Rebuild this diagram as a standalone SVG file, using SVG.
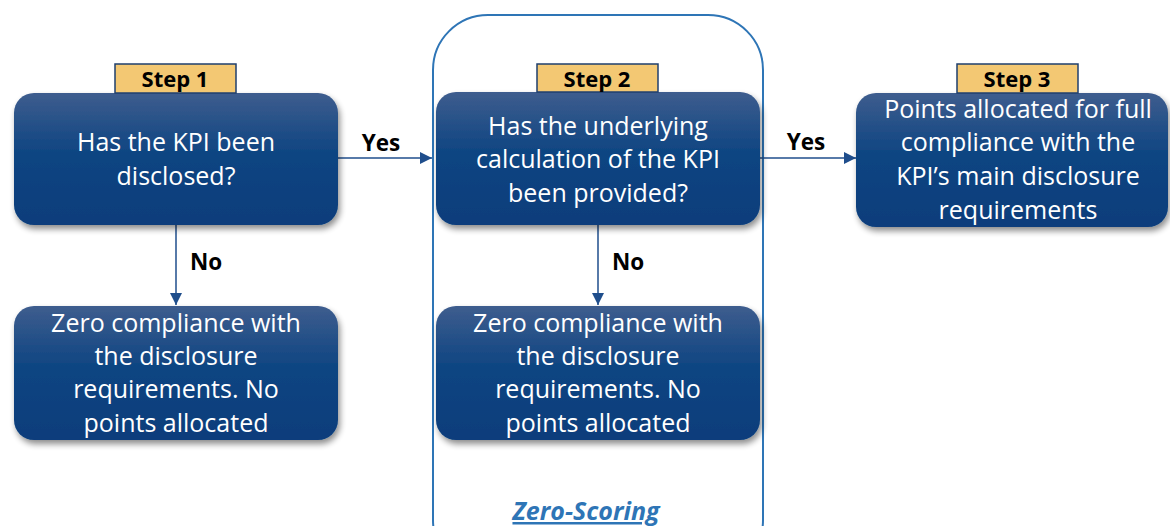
<svg xmlns="http://www.w3.org/2000/svg" width="1170" height="526" viewBox="0 0 1170 526">
<defs>
<linearGradient id="g" x1="0" y1="0" x2="0" y2="1">
<stop offset="0" stop-color="#3e5d8e"/>
<stop offset="0.45" stop-color="#0f4582"/>
<stop offset="1" stop-color="#083d7b"/>
</linearGradient>
<filter id="sh" x="-10%" y="-10%" width="125%" height="130%">
<feGaussianBlur in="SourceAlpha" stdDeviation="3"/>
<feOffset dx="2" dy="4"/>
<feComponentTransfer><feFuncA type="linear" slope="0.45"/></feComponentTransfer>
<feMerge><feMergeNode/><feMergeNode in="SourceGraphic"/></feMerge>
</filter>
<marker id="ah" viewBox="0 0 10 10" refX="10" refY="5" markerWidth="12" markerHeight="12" markerUnits="userSpaceOnUse" orient="auto">
<path d="M0,0 L10,5 L0,10 z" fill="#1f4e8c"/>
</marker>
</defs>
<style>
.box{fill:url(#g);filter:url(#sh)}
.t{font-family:"Open Sans","Noto Sans",sans-serif;font-size:25px;fill:#ffffff;text-anchor:middle}
.step{fill:#f3c873;stroke:#1f3f6e;stroke-width:1.5}
.st{font-family:"Open Sans","Noto Sans",sans-serif;font-size:22px;font-weight:bold;fill:#000;text-anchor:middle}
.lbl{font-family:"Open Sans","Noto Sans",sans-serif;font-size:22.5px;font-weight:bold;fill:#000;text-anchor:middle}
.c{stroke:#1f4e8c;stroke-width:1.5;fill:none}
</style>
<rect width="1170" height="526" fill="#ffffff"/>
<g id="zero-scoring">
<rect x="433" y="15" width="330" height="560" rx="55" ry="55" fill="none" stroke="#2e75b6" stroke-width="2"/>
<text x="586" y="520" font-family="'Open Sans','Noto Sans',sans-serif" font-size="25px" font-weight="bold" font-style="italic" fill="#2e75b6" text-anchor="middle" text-decoration="underline">Zero-Scoring</text>
</g>
<g id="connectors">
<line class="c" x1="338" y1="158" x2="432" y2="158" marker-end="url(#ah)"/>
<line class="c" x1="760" y1="158" x2="856" y2="158" marker-end="url(#ah)"/>
<line class="c" x1="176" y1="225" x2="176" y2="305" marker-end="url(#ah)"/>
<line class="c" x1="598" y1="225" x2="598" y2="305" marker-end="url(#ah)"/>
<text class="lbl" x="381" y="151">Yes</text>
<text class="lbl" x="806" y="150">Yes</text>
<text class="lbl" x="206" y="270">No</text>
<text class="lbl" x="628" y="270">No</text>
</g>
<g id="step1">
<rect class="box" x="14" y="93" width="324" height="132" rx="20"/>
<text class="t" x="176" y="151">Has the KPI been</text>
<text class="t" x="176" y="185">disclosed?</text>
<rect class="step" x="115" y="64" width="121" height="29"/>
<text class="st" x="175" y="87">Step 1</text>
</g>
<g id="step2">
<rect class="box" x="436" y="92" width="324" height="133" rx="20"/>
<text class="t" x="598" y="135">Has the underlying</text>
<text class="t" x="598" y="168">calculation of the KPI</text>
<text class="t" x="598" y="202">been provided?</text>
<rect class="step" x="537" y="64" width="121" height="28"/>
<text class="st" x="597" y="87">Step 2</text>
</g>
<g id="step3">
<rect class="box" x="856" y="93" width="312" height="134" rx="20"/>
<text class="t" x="1018" y="118">Points allocated for full</text>
<text class="t" x="1018" y="151">compliance with the</text>
<text class="t" x="1018" y="185">KPI’s main disclosure</text>
<text class="t" x="1018" y="219">requirements</text>
<rect class="step" x="957" y="64" width="121" height="29"/>
<text class="st" x="1017" y="87">Step 3</text>
</g>
<g id="zero1">
<rect class="box" x="14" y="306" width="324" height="134" rx="20"/>
<text class="t" x="176" y="332">Zero compliance with</text>
<text class="t" x="176" y="365">the disclosure</text>
<text class="t" x="176" y="398">requirements. No</text>
<text class="t" x="176" y="432">points allocated</text>
</g>
<g id="zero2">
<rect class="box" x="436" y="306" width="324" height="134" rx="20"/>
<text class="t" x="598" y="332">Zero compliance with</text>
<text class="t" x="598" y="365">the disclosure</text>
<text class="t" x="598" y="398">requirements. No</text>
<text class="t" x="598" y="432">points allocated</text>
</g>
</svg>
